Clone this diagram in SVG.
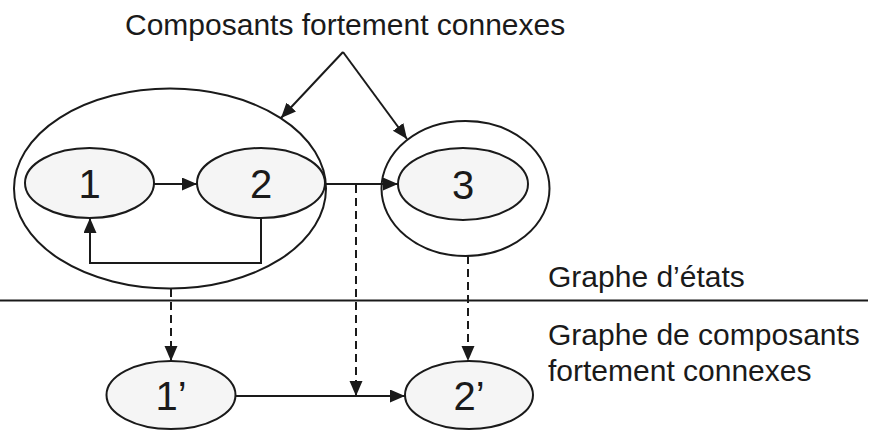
<svg xmlns="http://www.w3.org/2000/svg" width="870" height="430" viewBox="0 0 870 430">
  <style>
    .txt { font-family: "Liberation Sans", Arial, Helvetica, sans-serif; fill: #1a1a1a; }
    .lbl { font-size: 30px; }
    .num { font-size: 40px; text-anchor: middle; }
    .state { fill: #f5f5f5; stroke: #1a1a1a; stroke-width: 2; }
    .group { fill: none; stroke: #1a1a1a; stroke-width: 2; }
    .edge { fill: none; stroke: #1a1a1a; stroke-width: 2; }
    .dash { stroke-dasharray: 8 5; }
  </style>
  <defs>
    <marker id="head" markerUnits="userSpaceOnUse" markerWidth="16" markerHeight="14" refX="15" refY="6.5" orient="auto">
      <path d="M0,0 L15,6.5 L0,13 z" fill="#1a1a1a"/>
    </marker>
  </defs>

  <rect width="870" height="430" fill="#ffffff"/>

  <!-- title and side captions -->
  <text class="txt lbl" x="125" y="35">Composants fortement connexes</text>
  <text class="txt lbl" x="548" y="287">Graphe d’états</text>
  <text class="txt lbl" x="548" y="345">Graphe de composants</text>
  <text class="txt lbl" x="548" y="381">fortement connexes</text>

  <!-- separator between the two graphs -->
  <line x1="0" y1="300.5" x2="868" y2="300.5" stroke="#1a1a1a" stroke-width="2"/>

  <!-- strongly connected components -->
  <g id="scc-a">
    <ellipse class="group" cx="170" cy="188.5" rx="156" ry="100"/>
  </g>
  <g id="scc-b">
    <ellipse class="group" cx="465.5" cy="188.5" rx="84" ry="67.5"/>
  </g>

  <!-- states -->
  <g id="s1">
    <ellipse class="state" cx="89.5" cy="183" rx="64.5" ry="35"/>
    <text class="txt num" x="89.5" y="198">1</text>
  </g>
  <g id="s2">
    <ellipse class="state" cx="261" cy="183" rx="64" ry="35"/>
    <text class="txt num" x="261" y="198">2</text>
  </g>
  <g id="s3">
    <ellipse class="state" cx="463" cy="184" rx="65" ry="36"/>
    <text class="txt num" x="463" y="199">3</text>
  </g>

  <!-- condensed graph nodes -->
  <g id="c1">
    <ellipse class="state" cx="171" cy="395" rx="64.5" ry="34"/>
    <text class="txt num" x="171" y="410">1’</text>
  </g>
  <g id="c2">
    <ellipse class="state" cx="469" cy="395" rx="64" ry="34"/>
    <text class="txt num" x="469" y="410">2’</text>
  </g>

  <!-- connectors -->
  <g id="connectors">
    <line class="edge" x1="343" y1="52" x2="281" y2="118" marker-end="url(#head)"/>
    <line class="edge" x1="343" y1="52" x2="407" y2="139" marker-end="url(#head)"/>
    <line class="edge" x1="154" y1="184" x2="197" y2="184" marker-end="url(#head)"/>
    <path class="edge" d="M261,218 V263 H90 V218" marker-end="url(#head)"/>
    <line class="edge" x1="325" y1="184" x2="398" y2="184" marker-end="url(#head)"/>
    <line class="edge" x1="236" y1="396" x2="405" y2="396" marker-end="url(#head)"/>
    <line class="edge dash" x1="356" y1="185" x2="356" y2="396" marker-end="url(#head)"/>
    <line class="edge dash" x1="171" y1="289" x2="171" y2="361" marker-end="url(#head)"/>
    <line class="edge dash" x1="468" y1="256" x2="468" y2="361" marker-end="url(#head)"/>
  </g>
</svg>
